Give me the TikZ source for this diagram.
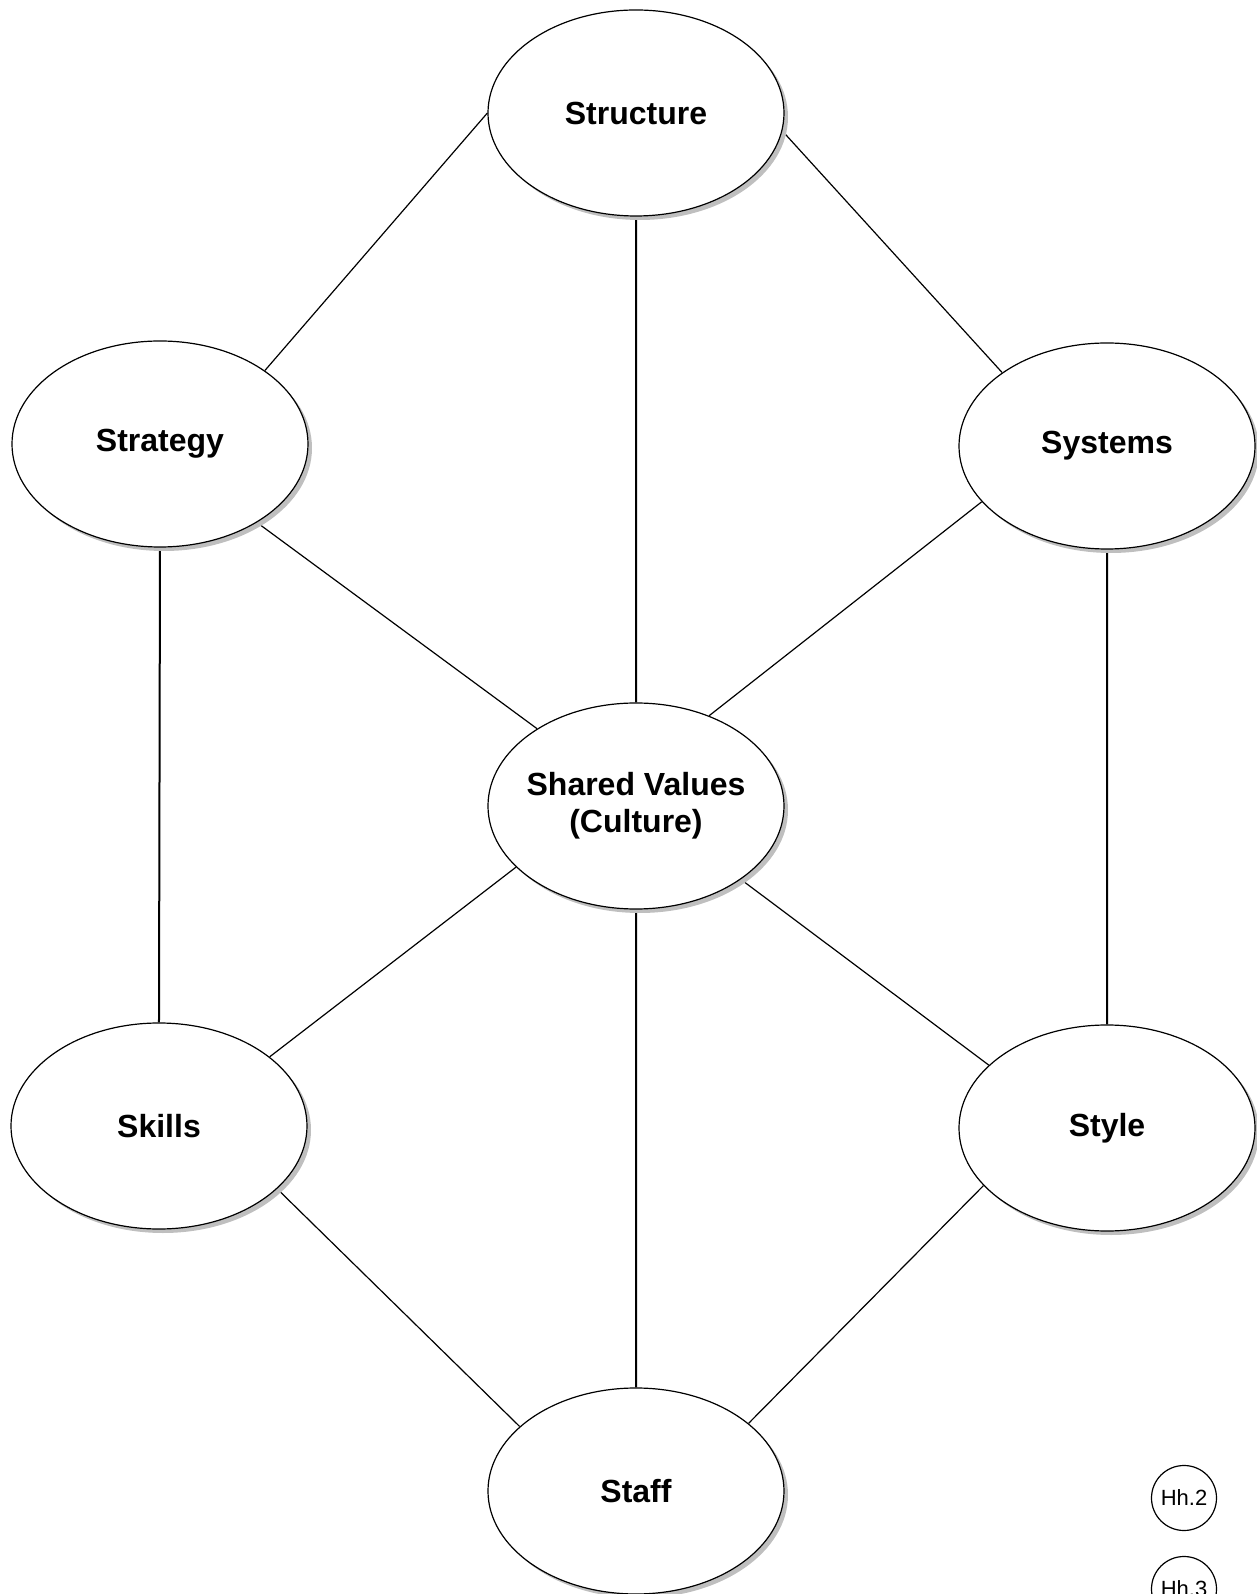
\documentclass[tikz,border=0pt]{standalone}
\usepackage{fontspec}
\setmainfont{Liberation Sans}
\usetikzlibrary{shapes.geometric,positioning,shadows,backgrounds}

\begin{document}
\begin{tikzpicture}[node distance=2cm,on grid]
       \tikzstyle{elem}=[ellipse, draw, line width=0.6pt, fill=white,
         minimum width=148pt, minimum height=103pt, inner sep=0pt,
         align=center, font=\fontsize{16}{18.3}\selectfont\bfseries,
         drop shadow={shadow xshift=2pt, shadow yshift=-2pt, fill=black!25, opacity=1}]
       \tikzstyle{tag}=[circle, draw, line width=0.6pt, minimum size=32.5pt,
         inner sep=0pt, font=\fontsize{11}{13}\selectfont]

       \useasboundingbox (-318pt,-394pt) rectangle (310.5pt,403pt);

       \node[elem, inner xsep=-8pt] (shared) {Shared Values\\(Culture)};
       \node[elem] (structure) [above =346.5pt of shared] {Structure};
       \node[elem] (strategy) [above left =181pt and 238pt of shared] {Strategy};
       \node[elem] (systems) [above right =180pt and 235.5pt of shared] {Systems};
       \node[elem] (skills) [below left =160pt and 238.5pt of shared] {Skills};
       \node[elem] (style) [below right =161pt and 235.5pt of shared] {Style};
       \node[elem] (staff) [below =342.5pt of shared] {Staff};

       \node[tag] (hh2) [below right =346pt and 274pt of shared] {Hh.2};
       \node[tag] (hh3) [below =45.5pt of hh2] {Hh.3};

       % links between the seven elements
       \begin{scope}[on background layer]
       \path[draw, line width=0.6pt]
       (structure.west) -- (strategy.35)
       (structure.-7) -- (systems.145)
       (strategy.-39) -- (shared.142)
       (systems.204) -- (shared.51)
       (shared.207) -- (skills.32)
       (shared.-35) -- (style.152)
       (skills.-28) -- (staff.151)
       (style.205) -- (staff.31);
       \path[draw, line width=1pt]
       (structure.south) -- (shared.north)
       (strategy.south) -- (skills.north)
       (systems.south) -- (style.north)
       (shared.south) -- (staff.north);
       \end{scope}
     \end{tikzpicture}
\end{document}
